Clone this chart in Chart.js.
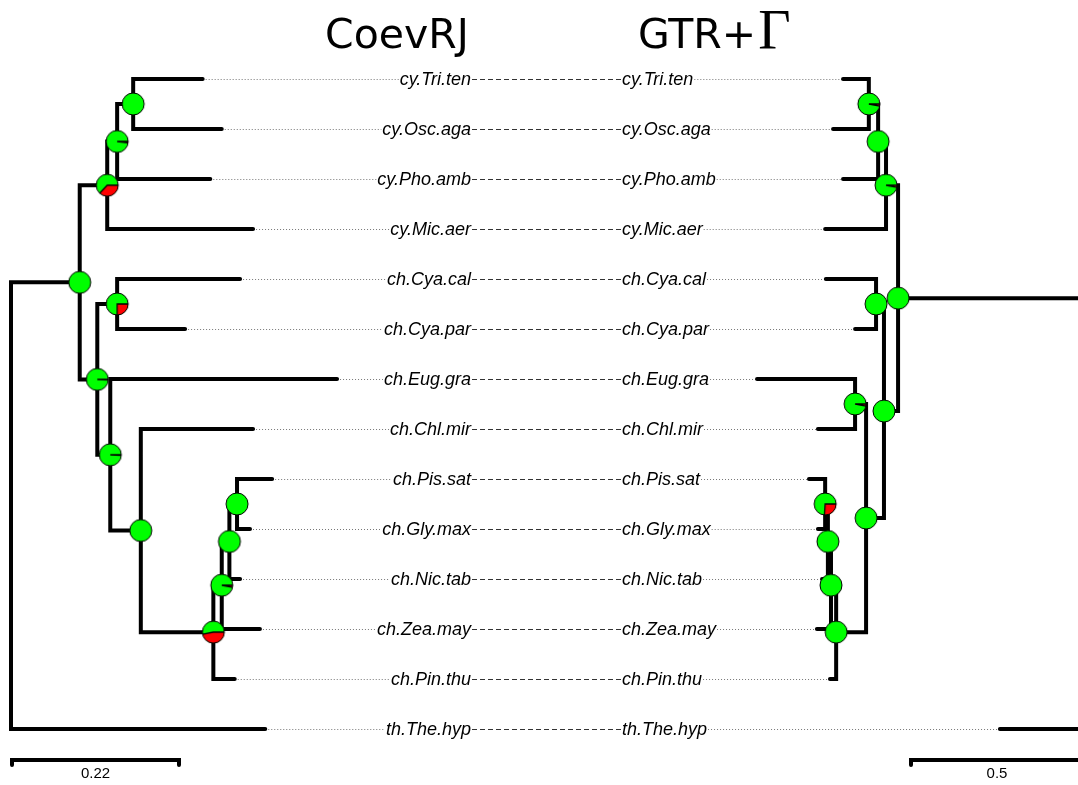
<!DOCTYPE html>
<html>
<head>
<meta charset="utf-8">
<script src="https://cdn.jsdelivr.net/npm/chart.js@4.4.1/dist/chart.umd.min.js"></script>
<style>
  html, body { margin: 0; padding: 0; background: #fff; overflow: hidden; }
  #wrap { width: 1078px; height: 785px; }
</style>
</head>
<body>
<div id="wrap"><canvas id="TreeChart" width="1078" height="785"></canvas></div>
<script>
// tips, same row order in both trees
var taxa = ['cy.Tri.ten', 'cy.Osc.aga', 'cy.Pho.amb', 'cy.Mic.aer', 'ch.Cya.cal', 'ch.Cya.par',
  'ch.Eug.gra', 'ch.Chl.mir', 'ch.Pis.sat', 'ch.Gly.max', 'ch.Nic.tab', 'ch.Zea.may',
  'ch.Pin.thu', 'th.The.hyp'];

var treeTitles = ['CoevRJ', 'GTR+', '\u0393'];
var scaleBars = [0.22, 0.5];

// CoevRJ tree: depth from root for tips (0-13) then internal nodes (14-26)
var coevDepth = [0.251, 0.276, 0.261, 0.317, 0.300, 0.228, 0.427, 0.317, 0.342, 0.313, 0.300, 0.326, 0.293, 0.333,
  0.160, 0.139, 0.126, 0.139, 0.296, 0.286, 0.276, 0.265, 0.170, 0.130, 0.113, 0.090, 0];
var coevChildren = [[0, 1], [14, 2], [15, 3], [4, 5], [8, 9], [18, 10], [19, 11], [20, 12], [7, 21], [6, 22], [17, 23], [16, 24], [25, 13]];
// posterior share of the red state at each internal node (root has no pie)
var coevRed = [0, 0.02, 0.37, 0.25, 0, 0, 0.03, 0.47, 0, 0.01, 0.01, 0, null];

// GTR+G tree
var gtrDepth = [0.747, 0.776, 0.747, 0.799, 0.797, 0.712, 0.997, 0.820, 0.846, 0.820, 0.808, 0.823, 0.785, 0.291,
  0.672, 0.645, 0.622, 0.651, 0.712, 0.799, 0.791, 0.782, 0.767, 0.680, 0.628, 0.587, 0];
var gtrChildren = [[0, 1], [14, 2], [15, 3], [4, 5], [6, 7], [8, 9], [19, 10], [20, 11], [21, 12], [18, 22], [17, 23], [16, 24], [25, 13]];
var gtrRed = [0.03, 0, 0.03, 0, 0.03, 0.26, 0, 0, 0, 0, 0, 0, null];

function layout(depth, children, red) {
  var n = taxa.length;
  var y = taxa.map(function(t, i) { return i; });
  children.forEach(function(c, k) { y[n + k] = (y[c[0]] + y[c[1]]) / 2; });
  var lines = [];
  children.forEach(function(c, k) {
    var p = n + k;
    lines.push({x: depth[c[0]], y: y[c[0]]}, {x: depth[p], y: y[c[0]]},
      {x: depth[p], y: y[c[1]]}, {x: depth[c[1]], y: y[c[1]]}, {x: NaN, y: NaN});
  });
  var nodes = [], pies = [];
  children.forEach(function(c, k) {
    if (red[k] === null) return;
    nodes.push({x: depth[n + k], y: y[n + k]});
    pies.push(makePie(red[k]));
  });
  return {lines: lines, nodes: nodes, pies: pies};
}

function makePie(r) {
  var c = document.createElement('canvas');
  c.width = 26; c.height = 26;
  var g = c.getContext('2d');
  var R = 11, cx = 13, cy = 13;
  g.beginPath(); g.arc(cx, cy, R, 0, Math.PI * 2);
  g.fillStyle = '#00ff00'; g.fill();
  if (r > 0) {
    var a = Math.PI * 2 * r;
    g.beginPath(); g.moveTo(cx, cy); g.arc(cx, cy, R, 0, a); g.closePath();
    g.fillStyle = '#ff0000'; g.fill();
    g.beginPath(); g.moveTo(cx + R, cy); g.lineTo(cx, cy);
    g.lineTo(cx + R * Math.cos(a), cy + R * Math.sin(a));
    g.strokeStyle = '#000'; g.lineWidth = 1.3; g.stroke();
  }
  g.beginPath(); g.arc(cx, cy, R, 0, Math.PI * 2);
  g.strokeStyle = '#000'; g.lineWidth = 1; g.stroke();
  return c;
}

var coev = layout(coevDepth, coevChildren, coevRed);
var gtr = layout(gtrDepth, gtrChildren, gtrRed);

var labelPlugin = {
  id: 'labels',
  beforeDatasetsDraw: function(chart) {
    var ctx = chart.ctx, sx = chart.scales.x, sx2 = chart.scales.x2, sy = chart.scales.y;
    var leftEdge = 471, rightEdge = 622;
    ctx.save();
    ctx.font = 'italic 18px "Liberation Sans", Arial, sans-serif';
    ctx.fillStyle = '#000';
    ctx.lineWidth = 1;
    taxa.forEach(function(t, i) {
      var py = sy.getPixelForValue(i);
      var w = ctx.measureText(t).width;
      var lx = sx.getPixelForValue(coevDepth[i]);
      var rx = sx2.getPixelForValue(gtrDepth[i]);
      ctx.strokeStyle = '#777';
      ctx.setLineDash([1, 2]);
      ctx.beginPath();
      ctx.moveTo(lx, py + 0.5); ctx.lineTo(leftEdge - w - 1, py + 0.5);
      ctx.moveTo(rightEdge + w + 1, py + 0.5); ctx.lineTo(rx, py + 0.5);
      ctx.stroke();
      ctx.strokeStyle = '#333';
      ctx.setLineDash([5, 3]);
      ctx.beginPath();
      ctx.moveTo(leftEdge + 1, py + 0.5); ctx.lineTo(rightEdge - 1, py + 0.5);
      ctx.stroke();
      ctx.textAlign = 'right';
      ctx.fillText(t, leftEdge, py + 6);
      ctx.textAlign = 'left';
      ctx.fillText(t, rightEdge, py + 6);
    });
    ctx.setLineDash([]);

    // titles
    ctx.font = '41px "DejaVu Sans", sans-serif';
    ctx.textAlign = 'center';
    ctx.fillText(treeTitles[0], 397, 48);
    ctx.textAlign = 'left';
    ctx.fillText(treeTitles[1], 638, 48);
    var w = ctx.measureText(treeTitles[1]).width;
    ctx.font = '56px "Liberation Serif", serif';
    ctx.fillText(treeTitles[2], 638 + w + 2, 49);

    // scale bars
    var barY = 760;
    ctx.lineWidth = 4;
    ctx.lineCap = 'round';
    ctx.lineJoin = 'miter';
    ctx.strokeStyle = '#000';
    var l0 = sx.getPixelForValue(0) + 1, l1 = sx.getPixelForValue(scaleBars[0]);
    ctx.beginPath();
    ctx.moveTo(l0, barY + 5); ctx.lineTo(l0, barY); ctx.lineTo(l1, barY); ctx.lineTo(l1, barY + 5);
    ctx.stroke();
    var r0 = 911, r1 = r0 + (sx2.getPixelForValue(0) - sx2.getPixelForValue(scaleBars[1]));
    ctx.beginPath();
    ctx.moveTo(r0, barY + 5); ctx.lineTo(r0, barY); ctx.lineTo(r1, barY); ctx.lineTo(r1, barY + 5);
    ctx.stroke();
    ctx.font = '15px "Liberation Sans", Arial, sans-serif';
    ctx.textAlign = 'center';
    ctx.fillText(String(scaleBars[0]), (l0 + l1) / 2, 778);
    ctx.fillText(String(scaleBars[1]), (r0 + r1) / 2, 778);
    ctx.restore();
  }
};

var lineStyle = {
  showLine: true,
  borderColor: '#000',
  borderWidth: 4,
  borderCapStyle: 'round',
  borderJoinStyle: 'miter',
  pointRadius: 0,
  spanGaps: false,
  order: 2
};

var config = {
  type: 'scatter',
  data: {
    datasets: [
      {label: 'CoevRJ nodes', data: coev.nodes, xAxisID: 'x', pointRadius: 11,
        pointStyle: function(c) { return coev.pies[c.dataIndex]; }, order: 0},
      {label: 'GTR nodes', data: gtr.nodes, xAxisID: 'x2', pointRadius: 11,
        pointStyle: function(c) { return gtr.pies[c.dataIndex]; }, order: 0},
      Object.assign({label: 'CoevRJ', data: coev.lines, xAxisID: 'x'}, lineStyle),
      Object.assign({label: 'GTR', data: gtr.lines, xAxisID: 'x2'}, lineStyle)
    ]
  },
  options: {
    responsive: false,
    animation: false,
    devicePixelRatio: 1,
    events: [],
    layout: {padding: 0, autoPadding: false},
    plugins: {legend: {display: false}, tooltip: {enabled: false}},
    scales: {
      x: {type: 'linear', display: false, min: -11 / 763.6, max: 1067 / 763.6},
      x2: {type: 'linear', axis: 'x', display: false, reverse: true, min: 22 / 344, max: 1100 / 344},
      y: {type: 'linear', display: false, reverse: true, min: -1.58, max: 14.12}
    }
  },
  plugins: [labelPlugin]
};

var chart = new Chart(document.getElementById('TreeChart').getContext('2d'), config);
</script>
</body>
</html>
